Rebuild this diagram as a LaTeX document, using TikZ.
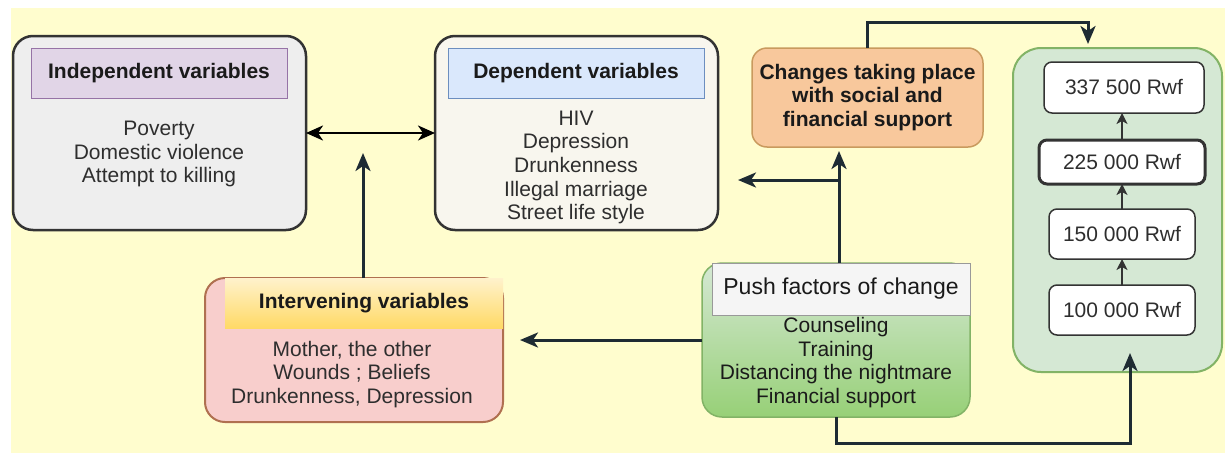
\documentclass[tikz,border=0pt]{standalone}
\usepackage{fontspec}
\setmainfont{Liberation Sans}
\usetikzlibrary{arrows.meta,calc}

\definecolor{bgyellow}{HTML}{FFFDCE}
\definecolor{boxgray}{HTML}{333333}
\definecolor{indfill}{HTML}{EEEEEE}
\definecolor{depfill}{HTML}{F8F6EE}
\definecolor{purplefill}{HTML}{E1D5E7}
\definecolor{purpleline}{HTML}{9673A6}
\definecolor{bluefill}{HTML}{DAE8FC}
\definecolor{blueline}{HTML}{6C8EBF}
\definecolor{peachfill}{HTML}{F8C89C}
\definecolor{peachline}{HTML}{C99A5E}
\definecolor{greenfill}{HTML}{D5E8D4}
\definecolor{greendeep}{HTML}{97D077}
\definecolor{greenline}{HTML}{82B366}
\definecolor{pinkfill}{HTML}{F8CECC}
\definecolor{pinkline}{HTML}{B07050}
\definecolor{yellowtop}{HTML}{FFF2CC}
\definecolor{yellowbot}{HTML}{FFD966}
\definecolor{linedark}{HTML}{1E2B33}
\definecolor{textgray}{HTML}{2E2E2E}
\definecolor{textdark}{HTML}{1A1A1A}

\begin{document}
\begin{tikzpicture}[x=1pt,y=-1pt,
  every node/.style={inner sep=0pt, outer sep=0pt},
  bodyfont/.style={font=\fontsize{21}{23.7}\selectfont},
  panel/.style={draw=boxgray, line width=2.5pt, rounded corners=20pt},
  header/.style={font=\fontsize{21}{23.7}\selectfont\bfseries, text=textdark},
  txt/.style={bodyfont, align=center, text=textgray},
  money/.style={draw=boxgray, line width=1.5pt, fill=white, rounded corners=8pt,
    bodyfont, text=textgray},
  conn/.style={draw=linedark, line width=3pt,
    -{Stealth[length=18pt,width=15pt,inset=5pt]}},
  twoway/.style={draw=black, line width=2.5pt,
    {Stealth[length=17pt,width=15pt,inset=5pt]}-{Stealth[length=17pt,width=15pt,inset=5pt]}},
  step arrow/.style={draw=boxgray, line width=1.5pt,
    -{Stealth[length=11pt,width=11pt,inset=3pt]}}
]
% canvas
\useasboundingbox (0,0) rectangle (1225,453);
\fill[white] (0,0) rectangle (1225,453);
\fill[bgyellow] (11,8) rectangle (1225,453);

% independent variables
\node[panel, fill=indfill, minimum width=293pt, minimum height=194pt] (indep) at (159.5,133) {};
\node[header, fill=purplefill, draw=purpleline, line width=1pt,
      minimum width=256pt, minimum height=50pt] (indephdr) at (159,73) {Independent variables};
\node[txt] (indepbody) at (159,154) {Poverty\\Domestic violence\\Attempt to killing};

% dependent variables
\node[panel, fill=depfill, minimum width=283pt, minimum height=194pt] (dep) at (576.5,133) {};
\node[header, fill=bluefill, draw=blueline, line width=1pt,
      minimum width=256pt, minimum height=50pt] (dephdr) at (576,73) {Dependent variables};
\node[txt] (depbody) at (576,167.5) {HIV\\Depression\\Drunkenness\\Illegal marriage\\Street life style};

% changes with support
\node[draw=peachline, line width=1.5pt, fill=peachfill, rounded corners=15pt,
      minimum width=231pt, minimum height=99pt] (chg) at (867.5,97.5) {};
\node[header, align=center] (chgtext) at (867.5,97.5) {Changes taking place\\with social and\\financial support};

% intervening variables
\node[draw=pinkline, line width=2pt, fill=pinkfill, rounded corners=20pt,
      minimum width=298pt, minimum height=144pt] (interv) at (354,350) {};
\node[header, top color=yellowtop, bottom color=yellowbot,
      minimum width=278pt, minimum height=50pt] (intervhdr) at (364,303) {Intervening variables};
\node[txt] (intervbody) at (352,374.5) {Mother, the other\\Wounds ; Beliefs\\Drunkenness, Depression};

% push factors
\node[draw=greenline, line width=1.5pt, top color=greenfill, bottom color=greendeep,
      rounded corners=20pt, minimum width=268pt, minimum height=154pt] (push) at (836,340) {};
\node[font=\fontsize{23}{23.7}\selectfont, text=textdark, fill=white!96!black,
      draw=black!40, line width=1pt, minimum width=258pt, minimum height=52pt] (pushhdr) at (841,289) {Push factors of change};
\node[txt, text=textdark] (pushbody) at (836,362.5) {Counseling\\Training\\Distancing the nightmare\\Financial support};

% amounts
\node[draw=greenline, line width=2pt, fill=greenfill, rounded corners=28pt,
      minimum width=209pt, minimum height=324pt] (cont) at (1117.5,210) {};
\node[money, minimum width=160pt, minimum height=51pt] (c337) at (1124,87.5) {337 500 Rwf};
\node[money, line width=3pt, minimum width=166pt, minimum height=44pt] (c225) at (1122,162) {225 000 Rwf};
\node[money, minimum width=146pt, minimum height=50pt] (c150) at (1122,234) {150 000 Rwf};
\node[money, minimum width=146pt, minimum height=50pt] (c100) at (1122,310) {100 000 Rwf};

\draw[step arrow] (c100.north) -- (c150.south);
\draw[step arrow] (c150.north) -- (c150.north |- c225.south);
\draw[step arrow] (c225.north) -- (c225.north |- c337.south);

% connectors
\coordinate (ivtip) at (363,153);
\coordinate (ivin) at (520,340);
\coordinate (depin) at (738,180);
\coordinate (toptip) at (1088,44);
\coordinate (bottip) at (1130,353);

\draw[twoway] (indep.east) -- (dep.west);
\draw[conn] (interv.north -| ivtip) -- (ivtip);
\draw[conn] (push.west) -- (ivin);
\draw[conn] ([xshift=3pt]push.north) -- ([xshift=3pt,yshift=-4pt]push.north |- chg.south);
\draw[conn] ([xshift=3pt]push.north |- depin) -- (depin);
\draw[conn] (chg.north) -- (chg.north |- 0,22) -| (toptip);
\draw[conn] (push.south) -- (push.south |- 0,443) -| (bottip);
\end{tikzpicture}
\end{document}
